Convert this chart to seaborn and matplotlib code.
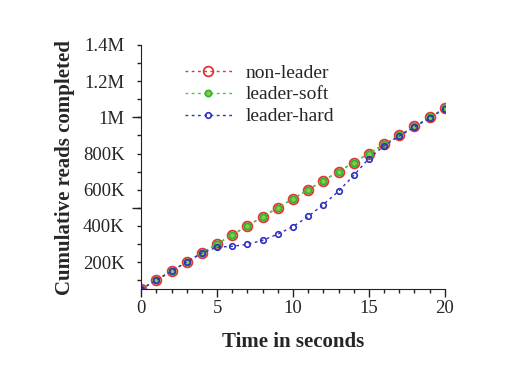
import pandas as pd
import seaborn as sns
import matplotlib.pyplot as plt
from matplotlib.ticker import MultipleLocator, FixedLocator, FuncFormatter, NullFormatter

# seconds and cumulative reads (in thousands)
seconds = list(range(21))
non_leader = [50, 100, 150, 200, 250, 300, 350, 400, 450, 500, 550,
              600, 650, 700, 750, 800, 850, 900, 950, 1000, 1050]
leader_soft = [50, 100, 150, 200, 250, 300, 350, 400, 450, 500, 550,
               600, 650, 700, 750, 800, 850, 900, 950, 1000, 1050]
leader_hard = [50, 100, 150, 200, 250, 282, 287, 298, 320, 354, 396,
               452, 518, 591, 679, 772, 843, 896, 946, 996, 1048]

sns.set_style("ticks")
plt.rcParams['font.family'] = ['Liberation Serif', 'DejaVu Serif']

fig = plt.figure(figsize=(5.19, 3.78), dpi=100)
ax = fig.add_axes([0.272, 0.235, 0.585, 0.646])

dash = (0, (2, 2.5))
# red big open circles at the bottom, soft and hard drawn on top
sns.lineplot(x=seconds, y=non_leader, ax=ax, color='#e03535', lw=1,
             linestyle=dash, marker='o', markersize=7,
             markerfacecolor='none', markeredgecolor='#e03535',
             markeredgewidth=1.3, label='non-leader')
sns.lineplot(x=seconds, y=leader_soft, ax=ax, color='#40d040', lw=1,
             linestyle=dash, marker='o', markersize=4.5,
             markerfacecolor='#80d040', markeredgecolor='#30b030',
             markeredgewidth=1.2, label='leader-soft')
sns.lineplot(x=seconds, y=leader_hard, ax=ax, color='#3030c0', lw=1,
             linestyle=dash, marker='o', markersize=4,
             markerfacecolor='none', markeredgecolor='#3030c0',
             markeredgewidth=1.2, label='leader-hard')

ax.set_xlim(0, 20)
ax.set_ylim(50, 1400)
ax.xaxis.set_major_locator(MultipleLocator(5))
ax.xaxis.set_minor_locator(MultipleLocator(1))

# long ticks at 500K / 1M, short ticks every 100K, labels every 200K
ax.yaxis.set_major_locator(FixedLocator([500, 1000]))
ax.yaxis.set_major_formatter(NullFormatter())
ax.yaxis.set_minor_locator(MultipleLocator(100))


def kfmt(v, pos):
    if round(v) % 200 != 0:
        return ''
    if v >= 1000:
        return ('%g' % (v / 1000)) + 'M'
    return '%dK' % v


ax.yaxis.set_minor_formatter(FuncFormatter(kfmt))
ax.yaxis.remove_overlapping_locs = False

ax.tick_params(axis='x', which='major', labelsize=13.5, length=6, width=1,
               color='#222222', pad=2)
ax.tick_params(axis='x', which='minor', length=3, width=1, color='#222222')
ax.tick_params(axis='y', which='major', length=6.5, width=1, color='#222222')
ax.tick_params(axis='y', which='minor', labelsize=13.5, length=3, width=1,
               color='#222222', pad=9)
for s in ['left', 'bottom']:
    ax.spines[s].set_color('#222222')
sns.despine(ax=ax)

ax.set_xlabel('Time in seconds', fontsize=15, fontweight='bold')
ax.set_ylabel('Cumulative reads completed', fontsize=15, fontweight='bold')
ax.xaxis.set_label_coords(0.5, -0.176)
ax.yaxis.set_label_coords(-0.217, 0.5)

ax.legend(loc='upper left', bbox_to_anchor=(0.323, 0.877),
          bbox_transform=fig.transFigure, frameon=False, fontsize=14,
          handlelength=2.4, handletextpad=0.7, labelspacing=0.22,
          borderpad=0.4)

fig.savefig('out.png', dpi=100)
